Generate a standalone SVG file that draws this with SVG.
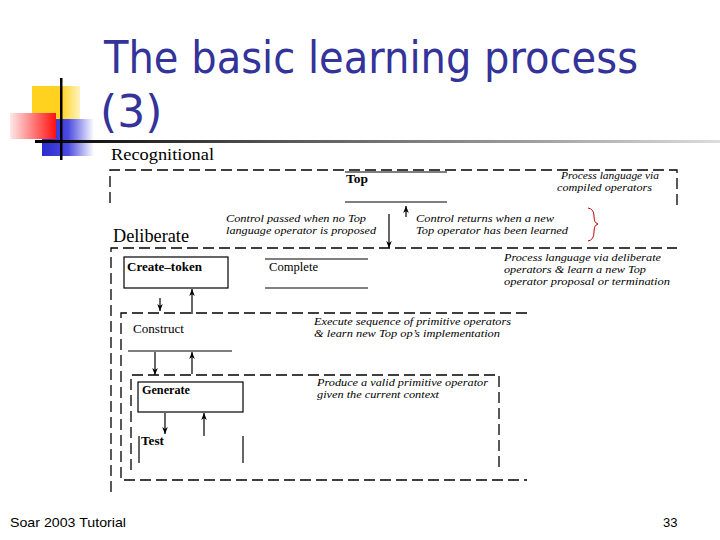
<svg xmlns="http://www.w3.org/2000/svg" width="720" height="540" viewBox="0 0 720 540">
<defs>
<linearGradient id="gYel" x1="0" y1="0" x2="1" y2="0"><stop offset="0" stop-color="#FFD21F"/><stop offset="0.6" stop-color="#FFD21F"/><stop offset="1" stop-color="#FFF4C0"/></linearGradient>
<linearGradient id="gRed" x1="0" y1="0" x2="1" y2="0"><stop offset="0" stop-color="#FFE8E8"/><stop offset="1" stop-color="#FF1010"/></linearGradient>
<linearGradient id="gBlue" x1="0" y1="0" x2="1" y2="0"><stop offset="0" stop-color="#2A2ACF"/><stop offset="0.5" stop-color="#4A4AE0"/><stop offset="1" stop-color="#FFFFFF"/></linearGradient>
<linearGradient id="gLine" x1="0" y1="0" x2="1" y2="0"><stop offset="0" stop-color="#000"/><stop offset="0.35" stop-color="#555"/><stop offset="0.7" stop-color="#999"/><stop offset="1" stop-color="#ddd"/></linearGradient>
<marker id="ah" viewBox="0 0 10 10" refX="10" refY="5" markerWidth="7" markerHeight="7" orient="auto" markerUnits="userSpaceOnUse">
<path d="M0,1 L10,5 L0,9 L3,5 z" fill="#000"/>
</marker>
<style>
.title{font-family:"DejaVu Sans","Open Sans",sans-serif;font-size:44px;fill:#333399}
.lvl{font-family:"Liberation Serif",serif;fill:#000}
.nb{font-family:"Liberation Serif",serif;font-size:13px;font-weight:bold;fill:#000}
.nr{font-family:"Liberation Serif",serif;font-size:13px;fill:#000}
.it{font-family:"Liberation Serif",serif;font-size:11px;font-style:italic;fill:#000}
.dash{fill:none;stroke:#000;stroke-width:1.3;stroke-dasharray:11,5}
.sol{fill:none;stroke:#000;stroke-width:1.2}
.arr{fill:none;stroke:#000;stroke-width:1.2;marker-end:url(#ah)}
.foot{font-family:"Liberation Sans",sans-serif;font-size:13px;fill:#000}
</style>
</defs>
<rect width="720" height="540" fill="#fff"/>
<g id="decoration">
<rect x="32" y="86" width="48" height="33" fill="url(#gYel)"/>
<rect x="42" y="119" width="52" height="37" fill="url(#gBlue)"/>
<rect x="10" y="113" width="46" height="26" fill="url(#gRed)"/>
<rect x="35" y="140" width="685" height="3" fill="url(#gLine)"/>
<rect x="60" y="78" width="2.5" height="82" fill="#000"/>
</g>
<g id="title">
<text class="title" x="104" y="73" textLength="534" lengthAdjust="spacingAndGlyphs">The basic learning process</text>
<text class="title" x="100" y="127">(3)</text>
</g>
<g id="levels">
<text class="lvl" x="111" y="160" font-size="17" textLength="103" lengthAdjust="spacingAndGlyphs">Recognitional</text>
<path class="dash" d="M110,203 V170 H677 V205"/>
<text class="lvl" x="113" y="242" font-size="18" textLength="76" lengthAdjust="spacingAndGlyphs">Deliberate</text>
<path class="dash" d="M111,492 V248 H677"/>
<path class="dash" d="M527,313 H121 V480 H527"/>
<path class="dash" d="M131,470 V375 H499 V470"/>
</g>
<g id="node-top">
<line class="sol" x1="345" y1="172" x2="447" y2="172"/>
<line class="sol" x1="345" y1="202" x2="447" y2="202"/>
<text class="nb" x="346" y="183" textLength="22" lengthAdjust="spacingAndGlyphs">Top</text>
</g>
<g id="node-create-token">
<rect class="sol" x="124" y="257" width="104" height="31"/>
<text class="nb" x="127" y="271" textLength="75" lengthAdjust="spacingAndGlyphs">Create–token</text>
</g>
<g id="node-complete">
<line class="sol" x1="265" y1="259" x2="368" y2="259"/>
<line class="sol" x1="265" y1="288" x2="368" y2="288"/>
<text class="nr" x="269" y="271" textLength="49" lengthAdjust="spacingAndGlyphs">Complete</text>
</g>
<g id="node-construct">
<line class="sol" x1="128" y1="351" x2="232" y2="351"/>
<text class="nr" x="133" y="333" textLength="51" lengthAdjust="spacingAndGlyphs">Construct</text>
</g>
<g id="node-generate">
<rect class="sol" x="138" y="382" width="105" height="30"/>
<text class="nb" x="142" y="394" textLength="48" lengthAdjust="spacingAndGlyphs">Generate</text>
</g>
<g id="node-test">
<line class="sol" x1="139" y1="436" x2="139" y2="463"/>
<line class="sol" x1="243" y1="436" x2="243" y2="463"/>
<text class="nb" x="141" y="445" textLength="23" lengthAdjust="spacingAndGlyphs">Test</text>
</g>
<g id="connectors">
<line class="arr" x1="389" y1="214" x2="389" y2="248"/>
<line class="arr" x1="406" y1="217" x2="406" y2="206"/>
<line class="arr" x1="160" y1="298" x2="160" y2="311"/>
<line class="arr" x1="192" y1="314" x2="192" y2="289"/>
<line class="arr" x1="155" y1="352" x2="155" y2="375"/>
<line class="arr" x1="192" y1="374" x2="192" y2="352"/>
<line class="arr" x1="165" y1="413" x2="165" y2="434"/>
<line class="arr" x1="204" y1="436" x2="204" y2="413"/>
</g>
<g id="annotations">
<text class="it" x="561" y="179" textLength="98" lengthAdjust="spacingAndGlyphs">Process language via</text>
<text class="it" x="557" y="191" textLength="95" lengthAdjust="spacingAndGlyphs">compiled operators</text>
<text class="it" x="226" y="222" textLength="140" lengthAdjust="spacingAndGlyphs">Control passed when no Top</text>
<text class="it" x="226" y="234" textLength="150" lengthAdjust="spacingAndGlyphs">language operator is proposed</text>
<text class="it" x="416" y="222" textLength="138" lengthAdjust="spacingAndGlyphs">Control returns when a new</text>
<text class="it" x="416" y="234" textLength="152" lengthAdjust="spacingAndGlyphs">Top operator has been learned</text>
<path d="M588,208 Q594,209 594,216 Q594,223 598,224 Q594,225 594,232 Q594,240 588,241" fill="none" stroke="#C00000" stroke-width="1"/>
<text class="it" x="504" y="261" textLength="157" lengthAdjust="spacingAndGlyphs">Process language via deliberate</text>
<text class="it" x="504" y="273" textLength="142" lengthAdjust="spacingAndGlyphs">operators &amp; learn a new Top</text>
<text class="it" x="504" y="285" textLength="166" lengthAdjust="spacingAndGlyphs">operator  proposal or termination</text>
<text class="it" x="314" y="325" textLength="197" lengthAdjust="spacingAndGlyphs">Execute sequence of primitive operators</text>
<text class="it" x="314" y="337" textLength="186" lengthAdjust="spacingAndGlyphs">&amp; learn new Top op’s implementation</text>
<text class="it" x="317" y="386" textLength="171" lengthAdjust="spacingAndGlyphs">Produce a valid primitive operator</text>
<text class="it" x="317" y="398" textLength="122" lengthAdjust="spacingAndGlyphs">given the current context</text>
</g>
<g id="footer">
<text class="foot" x="10" y="527" textLength="116" lengthAdjust="spacingAndGlyphs">Soar 2003 Tutorial</text>
<text class="foot" x="663" y="527">33</text>
</g>
</svg>
